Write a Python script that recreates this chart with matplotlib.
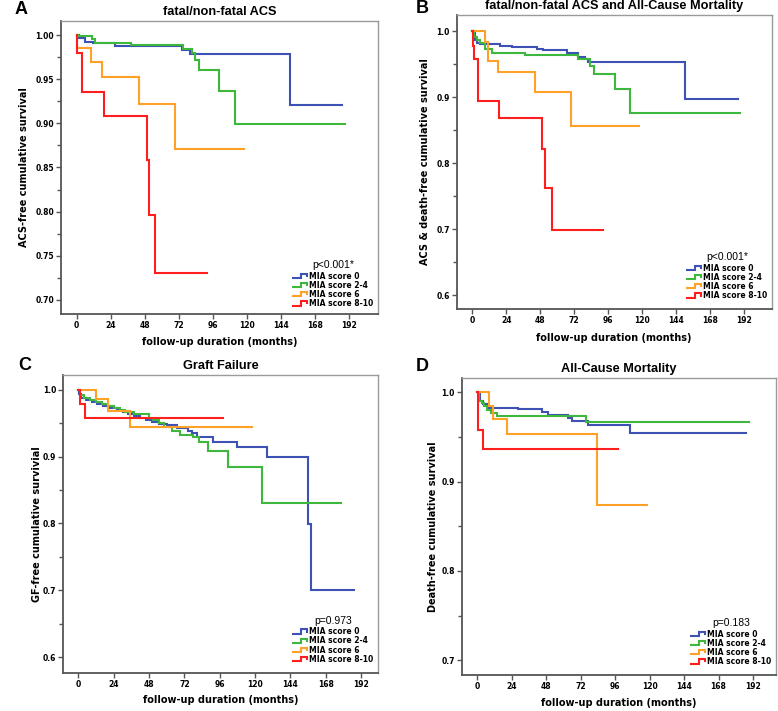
import matplotlib
matplotlib.use('Agg')
import matplotlib.pyplot as plt
import numpy as np
from matplotlib.lines import Line2D
from matplotlib.legend_handler import HandlerLine2D

# ---- data (Kaplan-Meier steps) ----
groups = ['MIA score 0', 'MIA score 2-4', 'MIA score 6', 'MIA score 8-10']
colors = ['#3D52B4', '#3DB83D', '#FFA126', '#FF1E1E']

# A: fatal/non-fatal ACS
acs_t = [[0, 1.5, 6, 11.5, 27, 74, 80, 150.5, 187.3],
         [0, 1, 10.6, 12.8, 38.3, 75.3, 81.2, 83.5, 86.5, 100.7, 111.7, 189],
         [0, 0.5, 10.5, 18.2, 44.2, 69.4, 118.2],
         [0, 0.3, 3.6, 19.0, 49.4, 51.2, 55.3, 92.2]]
acs_s = [[1.0, 0.9964, 0.9927, 0.9916, 0.9882, 0.983, 0.9788, 0.9206, 0.9206],
         [1.0, 0.9992, 0.9958, 0.991, 0.989, 0.984, 0.9796, 0.972, 0.9607, 0.9368, 0.8994, 0.8994],
         [1.0, 0.985, 0.9697, 0.953, 0.922, 0.871, 0.871],
         [1.0, 0.9795, 0.9357, 0.908, 0.858, 0.7963, 0.7302, 0.7302]]

# B: fatal/non-fatal ACS and all-cause mortality
acsd_t = [[0, 1.9, 3.1, 5.4, 19.6, 27.8, 45.5, 50.1, 66.6, 74.8, 79.5, 81.9, 150.1, 187.3],
          [0, 1, 3.1, 5.4, 9, 13.7, 37.2, 74.8, 83, 85.9, 100.7, 111.3, 189.2],
          [0, 9, 10.8, 18.3, 44.2, 69.4, 117.9],
          [0, 0.2, 1.2, 4.0, 19.2, 49.2, 51.3, 56, 92.5]]
acsd_s = [[1.0, 0.987, 0.983, 0.981, 0.978, 0.976, 0.974, 0.9717, 0.968, 0.9615, 0.9576, 0.954, 0.8975, 0.8975],
          [1.0, 0.992, 0.987, 0.982, 0.974, 0.967, 0.964, 0.958, 0.948, 0.936, 0.9126, 0.8763, 0.8763],
          [1.0, 0.984, 0.955, 0.939, 0.908, 0.857, 0.857],
          [1.0, 0.978, 0.959, 0.895, 0.868, 0.821, 0.762, 0.699, 0.699]]

# C: graft failure
gf_t = [[0, 0.5, 2, 5, 9, 13, 17, 21, 26, 30, 34, 38, 42, 46, 50, 55, 60, 66.8, 74.7, 77, 80.4,
         91.7, 107.5, 127.9, 156.2, 157.8, 187.2],
        [0, 1, 4, 8, 12, 16, 20, 24, 28, 32, 38, 48, 51, 55, 58, 63.4, 69, 78, 82, 88.3, 101.4,
         124.5, 178.2],
        [0, 11.8, 20.4, 35.1, 118.2],
        [0, 1.1, 4.3, 98]]
gf_s = [[1.0, 0.993, 0.987, 0.985, 0.982, 0.979, 0.976, 0.973, 0.970, 0.967, 0.964, 0.961, 0.958,
         0.955, 0.952, 0.949, 0.947, 0.943, 0.939, 0.935, 0.930, 0.922, 0.915, 0.900, 0.799, 0.700, 0.700],
        [1.0, 0.992, 0.988, 0.985, 0.981, 0.978, 0.975, 0.972, 0.969, 0.966, 0.963, 0.958, 0.954,
         0.950, 0.944, 0.938, 0.932, 0.930, 0.922, 0.909, 0.885, 0.830, 0.830],
        [1.0, 0.9856, 0.968, 0.9447, 0.9447],
        [1.0, 0.978, 0.9577, 0.9577]]

# D: all-cause mortality
death_t = [[0, 1.9, 4.2, 7.7, 28.5, 44.8, 49.4, 63.4, 65.7, 77.3, 106.3, 187],
           [0, 1.4, 3, 4.6, 7, 9.5, 13.9, 75.5, 189.2],
           [0, 8.4, 10.7, 20.9, 83.6, 118],
           [0, 0.5, 3.7, 98.2]]
death_s = [[1.0, 0.990, 0.987, 0.983, 0.981, 0.978, 0.975, 0.971, 0.968, 0.964, 0.955, 0.955],
           [1.0, 0.990, 0.988, 0.985, 0.980, 0.977, 0.974, 0.967, 0.967],
           [1.0, 0.985, 0.970, 0.953, 0.874, 0.874],
           [1.0, 0.958, 0.937, 0.937]]

xticks = np.arange(0, 193, 24)


class StepHandler(HandlerLine2D):
    # SPSS style legend glyph: a little step
    def create_artists(self, legend, orig_handle, xdescent, ydescent,
                       width, height, fontsize, trans):
        x0 = -xdescent
        lo = -ydescent + 0.1 * height
        hi = -ydescent + 0.9 * height
        xs = [x0, x0 + 0.55 * width, x0 + 0.55 * width, x0 + 0.92 * width, x0 + 0.92 * width]
        ys = [lo, lo, hi, hi, 0.5 * height - ydescent]
        ln = Line2D(xs, ys, color=orig_handle.get_color(), lw=1.5,
                    solid_joinstyle='miter')
        ln.set_transform(trans)
        return [ln]


def km_panel(ax, times, surv, ylim, xlim, yticks, yminor, yfmt,
             title, ylabel, pval, ylab_x, xlab_y, leg_anchor):
    for t, s, c in zip(times, surv, colors):
        ax.step(t, s, where='post', color=c, lw=1.5, solid_joinstyle='miter')
    ax.set_xlim(*xlim)
    ax.set_ylim(*ylim)
    ax.set_xticks(xticks)
    ax.set_yticks(yticks)
    ax.set_yticks(yminor, minor=True)
    ax.set_yticklabels([yfmt % v for v in yticks])
    ax.tick_params(axis='both', which='both', direction='out', color='#555555',
                   width=1.0, labelsize=5.5, pad=1.5)
    ax.tick_params(axis='both', which='major', length=3.5)
    ax.tick_params(axis='y', which='minor', length=3.0)
    for lab in ax.get_xticklabels() + ax.get_yticklabels():
        lab.set_fontweight('bold')
        lab.set_family('DejaVu Sans')
    for side in ['left', 'bottom']:
        ax.spines[side].set_color('#555555')
        ax.spines[side].set_linewidth(1.3)
    for side in ['top', 'right']:
        ax.spines[side].set_color('#9a9a9a')
        ax.spines[side].set_linewidth(1.0)
    ax.set_xlabel('follow-up duration (months)', fontsize=7, fontweight='bold',
                  family='DejaVu Sans', va='center')
    ax.xaxis.set_label_coords(0.5, xlab_y)
    ax.set_ylabel(ylabel, fontsize=7, fontweight='bold', family='DejaVu Sans',
                  va='center')
    ax.yaxis.set_label_coords(ylab_x, 0.5)
    ax.text(0.5, 1.03, title, transform=ax.transAxes, ha='center', va='center',
            fontsize=9.2, fontweight='bold', family='Liberation Sans')

    handles = [Line2D([], [], color=c) for c in colors]
    leg = ax.legend(handles, groups, loc='lower right', bbox_to_anchor=leg_anchor,
                    frameon=False, handler_map={Line2D: StepHandler()},
                    handlelength=2.0, handletextpad=0.1, labelspacing=0.02,
                    borderpad=0.0, borderaxespad=0.0,
                    prop={'family': 'DejaVu Sans', 'weight': 'bold', 'size': 5.5},
                    title=pval,
                    title_fontproperties={'family': 'Liberation Sans', 'size': 7.5})
    leg._legend_box.sep = 1.0


fig = plt.figure(figsize=(7.78, 7.11), dpi=100)

axA = fig.add_axes([0.0784, 0.5584, 0.4075, 0.4121])
axB = fig.add_axes([0.5870, 0.5654, 0.4049, 0.4135])
axC = fig.add_axes([0.0814, 0.0539, 0.4041, 0.4187])
axD = fig.add_axes([0.5934, 0.0506, 0.4036, 0.4181])

km_panel(axA, acs_t, acs_s, (0.684, 1.016), (-11, 212.5),
         np.arange(0.70, 1.001, 0.05), np.arange(0.725, 1.0, 0.05), '%.2f',
         'fatal/non-fatal ACS', 'ACS-free cumulative survival', 'p<0.001*',
         -0.117, -0.096, (0.985, 0.02))
km_panel(axB, acsd_t, acsd_s, (0.579, 1.025), (-11, 211.4),
         np.arange(0.6, 1.001, 0.1), np.arange(0.65, 1.0, 0.1), '%.1f',
         'fatal/non-fatal ACS and All-Cause Mortality', 'ACS & death-free cumulative survival',
         'p<0.001*', -0.10, -0.099, (0.985, 0.03))
km_panel(axC, gf_t, gf_s, (0.577, 1.022), (-10.2, 203.3),
         np.arange(0.6, 1.001, 0.1), np.arange(0.65, 1.0, 0.1), '%.1f',
         'Graft Failure', 'GF-free cumulative survivial', 'p=0.973',
         -0.084, -0.092, (0.985, 0.03))
km_panel(axD, death_t, death_s, (0.6835, 1.0164), (-10.9, 207.8),
         np.arange(0.7, 1.001, 0.1), np.arange(0.75, 1.0, 0.1), '%.1f',
         'All-Cause Mortality', 'Death-free cumulative survival', 'p=0.183',
         -0.091, -0.094, (0.985, 0.03))

for letter, (px, py) in zip('ABCD', [(15, 1), (416, 0), (18, 357), (416, 358)]):
    fig.text(px / 778, 1 - py / 711, letter, ha='left', va='top', fontsize=13,
             fontweight='bold', family='Liberation Sans')

fig.savefig('out.png', dpi=100, facecolor='white')
